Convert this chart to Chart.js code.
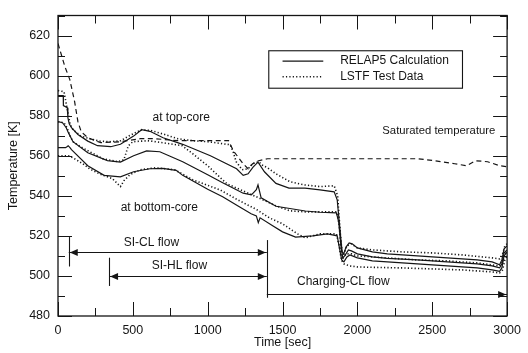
<!DOCTYPE html>
<html><head><meta charset="utf-8">
<script src="https://cdn.jsdelivr.net/npm/chart.js@4.4.0/dist/chart.umd.min.js"></script>
<style>html,body{margin:0;padding:0;background:#fff;}#wrap{width:528px;height:353px;}</style>
</head><body><div id="wrap"><canvas id="c" width="528" height="353"></canvas></div>
<script>
// ---- axis ticks ----
const xTickLabels = [0, 500, 1000, 1500, 2000, 2500, 3000];
const yTickLabels = [480, 500, 520, 540, 560, 580, 600, 620];

// ---- Saturated temperature (dashed) ----
const satTime = [0, 46, 79, 111, 133, 155, 199, 286, 417, 550, 650, 800, 1000, 1139, 1172, 1237, 1270, 1300, 1340, 1400, 1800, 2200, 2400, 2520, 2650, 2730, 2790, 2870, 2950, 3000];
const satTemp = [616, 604.5, 598, 587, 577, 572, 569, 566.5, 567, 568.5, 568.5, 567.5, 567.5, 567.5, 562.4, 556, 553.5, 556, 557.5, 558.5, 558.5, 558.5, 558.5, 557.5, 556, 555, 557.5, 557, 555, 554.5];

// ---- RELAP5 calculation (solid) ----
const calcTopTime = [0, 35, 36, 62, 66, 75, 90, 133, 199, 264, 352, 417, 505, 559, 614, 702, 833, 1018, 1193, 1237, 1270, 1303, 1336, 1379, 1456, 1543, 1650, 1750, 1845, 1865, 1885, 1898, 1908, 1925, 1945, 1965, 2000, 2100, 2200, 2400, 2600, 2800, 2900, 2950, 2965, 2980, 3000];
const calcTopTemp = [590, 590, 585, 584, 579, 576, 574, 570.6, 567.3, 565, 564.5, 565.7, 569.8, 573, 572.2, 569, 565.7, 560, 553.5, 550.2, 551, 554.3, 556.8, 552, 546.2, 543.8, 543.8, 543, 542, 538, 522, 512, 511, 514.5, 516.5, 516, 514, 512, 511, 510, 509, 508, 507, 505.6, 508, 513.5, 515];

const calcMidTime = [0, 30, 55, 70, 100, 199, 330, 417, 505, 592, 680, 833, 1000, 1100, 1237, 1292, 1325, 1336, 1357, 1456, 1652, 1750, 1860, 1875, 1890, 1902, 1915, 1940, 1960, 2000, 2100, 2200, 2400, 2600, 2800, 2900, 2950, 2965, 2980, 3000];
const calcMidTemp = [577, 576.5, 574, 571.4, 567, 561.5, 557.6, 556.8, 560, 562.4, 562, 557, 550.5, 546.5, 541.3, 540.5, 543, 545.4, 539, 534.8, 532.4, 531.8, 531.5, 527, 515, 509, 510, 513, 512.5, 511, 509.5, 508.8, 508, 507, 506, 505, 504, 506, 511.5, 513];

const calcBotTime = [0, 50, 60, 68, 80, 90, 199, 308, 417, 505, 614, 700, 789, 833, 1000, 1100, 1200, 1290, 1325, 1338, 1350, 1434, 1500, 1587, 1700, 1800, 1865, 1880, 1895, 1910, 1930, 1950, 2000, 2100, 2200, 2400, 2600, 2800, 2900, 2950, 2965, 2980, 3000];
const calcBotTemp = [564, 564, 564.5, 565, 564, 563, 555, 550.2, 549.5, 552, 553.5, 553.7, 552.7, 550.2, 543.3, 539.5, 535, 531, 530, 526.6, 529, 525, 522, 519.4, 520, 521, 520, 514, 508, 507, 509.5, 510.5, 509, 507.5, 507, 506, 505, 504, 503, 502.3, 504, 510, 512];

// ---- LSTF test data (dotted) ----
const testTopTime = [0, 40, 50, 60, 70, 80, 100, 150, 188, 275, 350, 420, 472, 530, 560, 625, 713, 800, 900, 1000, 1100, 1150, 1170, 1190, 1230, 1270, 1300, 1340, 1370, 1400, 1456, 1550, 1650, 1750, 1845, 1868, 1885, 1897, 1910, 1930, 1960, 2000, 2100, 2300, 2500, 2700, 2900, 2950, 2970, 2985, 3000];
const testTopTemp = [592.5, 592, 588, 584, 580, 576, 573, 570, 569, 567.3, 567, 567.5, 569.8, 572, 573, 572.5, 570.6, 568.5, 567.5, 567, 566, 565.5, 562, 557, 553, 553.5, 556, 557, 555, 554, 551, 547, 545.4, 544.6, 545, 540, 522, 512, 511, 515, 516, 514, 513, 512, 511.5, 510.5, 509, 508.5, 511, 515, 516];

const testMidTime = [0, 40, 60, 80, 100, 150, 200, 300, 400, 440, 470, 500, 600, 700, 830, 900, 1000, 1128, 1250, 1340, 1456, 1550, 1650, 1750, 1860, 1878, 1893, 1905, 1925, 1960, 2000, 2200, 2400, 2600, 2800, 2900, 2950, 2970, 2985, 3000];
const testMidTemp = [577, 576.5, 574, 570, 567, 564.5, 562.5, 558.5, 557, 558, 565, 567, 567.5, 566.5, 565, 561, 555, 546, 542, 539, 535, 532.5, 532, 532, 532, 526, 511, 509, 511, 511, 510, 509, 508, 507.5, 506.5, 505.5, 505, 507, 511, 512];

const testBotTime = [0, 70, 100, 166, 210, 275, 363, 417, 440, 480, 550, 650, 780, 900, 1084, 1200, 1325, 1412, 1500, 1600, 1652, 1750, 1860, 1878, 1893, 1910, 1950, 2000, 2100, 2300, 2500, 2700, 2900, 2950, 2970, 2985, 3000];
const testBotTemp = [560, 560, 559, 556, 553.5, 551, 548.6, 544.6, 547.5, 550.5, 553, 554, 553, 548, 542.9, 538, 533.2, 529, 526, 521, 519, 521, 521, 515, 508, 506, 505, 504.5, 504.3, 504, 503.5, 503, 502, 501.5, 503, 508, 510];

// ---- annotations (in data units) ----
const textNotes = [
  {text: 'at top-core', t: 823, v: 579, size: 12},
  {text: 'at bottom-core', t: 677, v: 534.1, size: 12},
  {text: 'Saturated temperature', t: 2544, v: 572.2, size: 11.3},
  {text: 'SI-CL flow', t: 624, v: 516.6, size: 12},
  {text: 'SI-HL flow', t: 811, v: 504.9, size: 12},
  {text: 'Charging-CL flow', t: 1906, v: 497.2, size: 12}
];
const flowStart = {siCL: 72, siHL: 341, charging: 1395, end: 3000};
const flowLevel = {siCL: 512, siHL: 500, charging: 491.2};

const FONT = '"Liberation Sans", Arial, Helvetica, sans-serif';
const INK = '#151515';

function pts(ts, vs) { return ts.map((t, i) => ({x: t, y: vs[i]})); }

const solid = {borderColor: INK, borderWidth: 1.2, borderDash: []};
const dotted = {borderColor: INK, borderWidth: 1.6, borderDash: [1.2, 2.2], borderCapStyle: 'butt'};
const dashed = {borderColor: INK, borderWidth: 1.2, borderDash: [5, 3.5]};

const datasets = [
  Object.assign({label: 'Saturated temperature', data: pts(satTime, satTemp)}, dashed),
  Object.assign({label: 'RELAP5 top', data: pts(calcTopTime, calcTopTemp)}, solid),
  Object.assign({label: 'RELAP5 mid', data: pts(calcMidTime, calcMidTemp)}, solid),
  Object.assign({label: 'RELAP5 bottom', data: pts(calcBotTime, calcBotTemp)}, solid),
  Object.assign({label: 'LSTF top', data: pts(testTopTime, testTopTemp)}, dotted),
  Object.assign({label: 'LSTF mid', data: pts(testMidTime, testMidTemp)}, dotted),
  Object.assign({label: 'LSTF bottom', data: pts(testBotTime, testBotTemp)}, dotted)
];

function arrowHead(ctx, tipX, tipY, dir) {
  ctx.beginPath();
  ctx.moveTo(tipX, tipY);
  ctx.lineTo(tipX - dir * 8, tipY - 3.5);
  ctx.lineTo(tipX - dir * 8, tipY + 3.5);
  ctx.closePath();
  ctx.fill();
}

const decor = {
  id: 'decor',
  afterDatasetsDraw(chart) {
    const {ctx, chartArea: a, scales: {x, y}} = chart;
    ctx.save();
    ctx.strokeStyle = INK; ctx.fillStyle = INK;
    ctx.lineWidth = 1.3;
    ctx.strokeRect(a.left, a.top, a.right - a.left, a.bottom - a.top);
    ctx.lineWidth = 1;
    ctx.beginPath();
    for (let v = 0; v <= 3000; v += 250) {
      const px = Math.round(x.getPixelForValue(v)) + 0.5;
      const len = (v % 500 === 0) ? 14 : 8;
      ctx.moveTo(px, a.bottom); ctx.lineTo(px, a.bottom - len);
      ctx.moveTo(px, a.top); ctx.lineTo(px, a.top + len);
    }
    for (let v = 480; v <= 630; v += 10) {
      const py = Math.round(y.getPixelForValue(v)) + 0.5;
      const len = (v % 20 === 0) ? 14 : 7;
      ctx.moveTo(a.left, py); ctx.lineTo(a.left + len, py);
      ctx.moveTo(a.right, py); ctx.lineTo(a.right - len, py);
    }
    ctx.stroke();

    // legend box
    const lx0 = x.getPixelForValue(1408), lx1 = x.getPixelForValue(2702);
    const ly0 = y.getPixelForValue(612.4), ly1 = y.getPixelForValue(593.7);
    ctx.fillStyle = '#fff';
    ctx.fillRect(lx0, ly0, lx1 - lx0, ly1 - ly0);
    ctx.fillStyle = INK;
    ctx.lineWidth = 1.1;
    ctx.strokeRect(lx0, ly0, lx1 - lx0, ly1 - ly0);
    const sx0 = x.getPixelForValue(1500), sx1 = x.getPixelForValue(1772);
    const r1 = y.getPixelForValue(607.2), r2 = y.getPixelForValue(599.4);
    ctx.setLineDash([]); ctx.lineWidth = 1.2;
    ctx.beginPath(); ctx.moveTo(sx0, r1); ctx.lineTo(sx1, r1); ctx.stroke();
    ctx.setLineDash([1.2, 2.2]); ctx.lineWidth = 1.6;
    ctx.beginPath(); ctx.moveTo(sx0, r2); ctx.lineTo(sx1, r2); ctx.stroke();
    ctx.setLineDash([]);
    ctx.font = '12px ' + FONT;
    ctx.textBaseline = 'middle'; ctx.textAlign = 'left';
    const tx = x.getPixelForValue(1885);
    ctx.fillText('RELAP5 Calculation', tx, r1);
    ctx.fillText('LSTF Test Data', tx, r2);

    // text notes
    ctx.textAlign = 'center';
    textNotes.forEach(n => {
      ctx.font = n.size + 'px ' + FONT;
      ctx.fillText(n.text, x.getPixelForValue(n.t), y.getPixelForValue(n.v));
    });

    // flow arrows
    ctx.lineWidth = 1.1;
    const bar = (t, v0, v1) => {
      const px = Math.round(x.getPixelForValue(t)) + 0.5;
      ctx.beginPath(); ctx.moveTo(px, y.getPixelForValue(v0)); ctx.lineTo(px, y.getPixelForValue(v1)); ctx.stroke();
    };
    bar(flowStart.siCL, 519.4, 504.7);
    bar(flowStart.siHL, 509.1, 495);
    bar(flowStart.charging, 517.9, 489.1);
    const hline = (t0, t1, v, leftHead, rightHead) => {
      const px0 = x.getPixelForValue(t0), px1 = x.getPixelForValue(t1);
      const py = Math.round(y.getPixelForValue(v)) + 0.5;
      ctx.beginPath(); ctx.moveTo(px0, py); ctx.lineTo(px1, py); ctx.stroke();
      if (leftHead) arrowHead(ctx, px0 + 1, py, -1);
      if (rightHead) arrowHead(ctx, px1 - 1, py, 1);
    };
    hline(flowStart.siCL, flowStart.charging, flowLevel.siCL, true, true);
    hline(flowStart.siHL, flowStart.charging, flowLevel.siHL, true, true);
    hline(flowStart.charging, flowStart.end, flowLevel.charging, false, true);
    ctx.restore();
  }
};

new Chart(document.getElementById('c'), {
  type: 'line',
  data: {datasets},
  options: {
    responsive: false, animation: false, devicePixelRatio: 1,
    layout: {padding: {left: 0, right: 13, top: 8, bottom: 0}},
    plugins: {legend: {display: false}, tooltip: {enabled: false}},
    elements: {point: {radius: 0}, line: {tension: 0, fill: false}},
    scales: {
      x: {
        type: 'linear', min: 0, max: 3000,
        afterBuildTicks(s) { s.ticks = xTickLabels.map(v => ({value: v})); },
        ticks: {font: {family: FONT, size: 12.5}, color: INK, padding: 7, maxRotation: 0, autoSkip: false, callback: v => String(v)},
        grid: {display: false, drawTicks: false}, border: {display: false},
        title: {display: true, text: 'Time [sec]', font: {family: FONT, size: 12.5}, color: INK, padding: {top: 0, bottom: 3}},
        afterFit(s) { s.height = 37; }
      },
      y: {
        type: 'linear', min: 480, max: 630,
        afterBuildTicks(s) { s.ticks = yTickLabels.map(v => ({value: v})); },
        ticks: {font: {family: FONT, size: 12.5}, color: INK, padding: 8, autoSkip: false, callback: v => String(v)},
        grid: {display: false, drawTicks: false}, border: {display: false},
        title: {display: true, text: 'Temperature [K]', font: {family: FONT, size: 12.5}, color: INK, padding: {top: 6, bottom: 0}},
        afterFit(s) { s.width = 58; }
      }
    }
  },
  plugins: [decor]
});
</script>
</body></html>
